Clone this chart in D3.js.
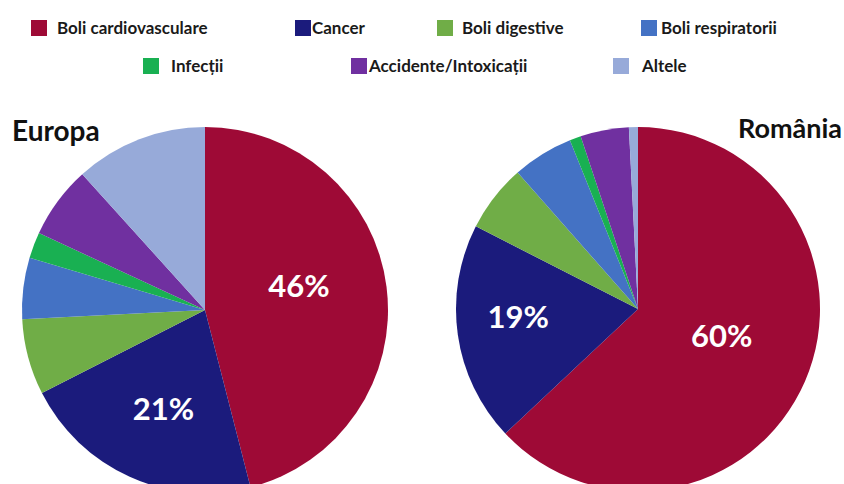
<!DOCTYPE html>
<html>
<head>
<meta charset="utf-8">
<script src="https://cdn.jsdelivr.net/npm/d3@7"></script>
<style>
  body { margin: 0; background: #fff; }
  svg { display: block; font-family: Lato, "Open Sans", sans-serif; }
</style>
</head>
<body>
<div id="chart"></div>
<script>
// categories, in legend / slice order
const categories = ["Boli cardiovasculare", "Cancer", "Boli digestive", "Boli respiratorii",
                    "Infecții", "Accidente/Intoxicații", "Altele"];
const colors = ["#9e0a36", "#1b1b7c", "#70ad47", "#4472c4", "#19b052", "#7030a0", "#97aad9"];

// slice shares (%)
const europaValues = [46, 21.5, 6.7, 5.4, 2.3, 6.4, 11.7];
const romaniaValues = [63, 19.5, 6, 5.4, 1, 4.3, 0.8];

// printed labels on the two biggest slices
const europaLabels = ["46%", "21%"];
const romaniaLabels = ["60%", "19%"];

const width = 844, height = 484;

const svg = d3.select("#chart")
    .append("svg")
    .attr("width", width)
    .attr("height", height);

// Legend
const legendRows = [
    { y: 28, items: [{ i: 0, x: 31 }, { i: 1, x: 295 }, { i: 2, x: 437 }, { i: 3, x: 641 }] },
    { y: 66, items: [{ i: 4, x: 143 }, { i: 5, x: 351 }, { i: 6, x: 613 }] }
];
const textGap = [10, 1, 9, 4, 12, 2, 13];

legendRows.forEach(row => {
    const g = svg.append("g").selectAll("g")
        .data(row.items)
        .enter()
        .append("g")
        .attr("transform", d => `translate(${d.x},${row.y})`);
    g.append("rect")
        .attr("x", 0)
        .attr("y", -8)
        .attr("width", 16)
        .attr("height", 16)
        .attr("fill", d => colors[d.i]);
    g.append("text")
        .attr("x", d => 16 + textGap[d.i])
        .attr("y", 0)
        .attr("dy", "0.35em")
        .attr("font-size", 17)
        .attr("font-weight", 700)
        .attr("fill", "#1a1a1a")
        .text(d => categories[d.i]);
});

// Pies
const pie = d3.pie().sort(null).value(d => d);

// label placement: [radius, angle shift from slice middle (deg)]
function drawPie(values, labels, cx, cy, r, labelPos) {
    const arc = d3.arc().innerRadius(0).outerRadius(r);
    const g = svg.append("g").attr("transform", `translate(${cx},${cy})`);
    const arcs = pie(values);

    g.selectAll("path")
        .data(arcs)
        .enter()
        .append("path")
        .attr("d", arc)
        .attr("fill", (d, i) => colors[i]);

    g.selectAll("text")
        .data(arcs.slice(0, labels.length))
        .enter()
        .append("text")
        .attr("transform", (d, i) => {
            const a = (d.startAngle + d.endAngle) / 2 + labelPos[i][1] * Math.PI / 180;
            const p = d3.pointRadial(a, labelPos[i][0]);
            return `translate(${p[0]},${p[1]})`;
        })
        .attr("text-anchor", "middle")
        .attr("dy", "0.36em")
        .attr("font-size", 31)
        .attr("font-weight", 700)
        .attr("fill", "#fff")
        .text((d, i) => labels[i]);
}

drawPie(europaValues, europaLabels, 205, 310, 183, [[97, -7], [107, -1.5]]);
drawPie(romaniaValues, romaniaLabels, 638, 309, 182, [[88, -5.4], [120, 4.3]]);

// Titles
svg.append("text")
    .attr("x", 12)
    .attr("y", 141)
    .attr("font-size", 28)
    .attr("font-weight", 700)
    .attr("fill", "#111")
    .text("Europa");

svg.append("text")
    .attr("x", 842)
    .attr("y", 138)
    .attr("text-anchor", "end")
    .attr("font-size", 27)
    .attr("font-weight", 700)
    .attr("fill", "#111")
    .text("România");
</script>
</body>
</html>
